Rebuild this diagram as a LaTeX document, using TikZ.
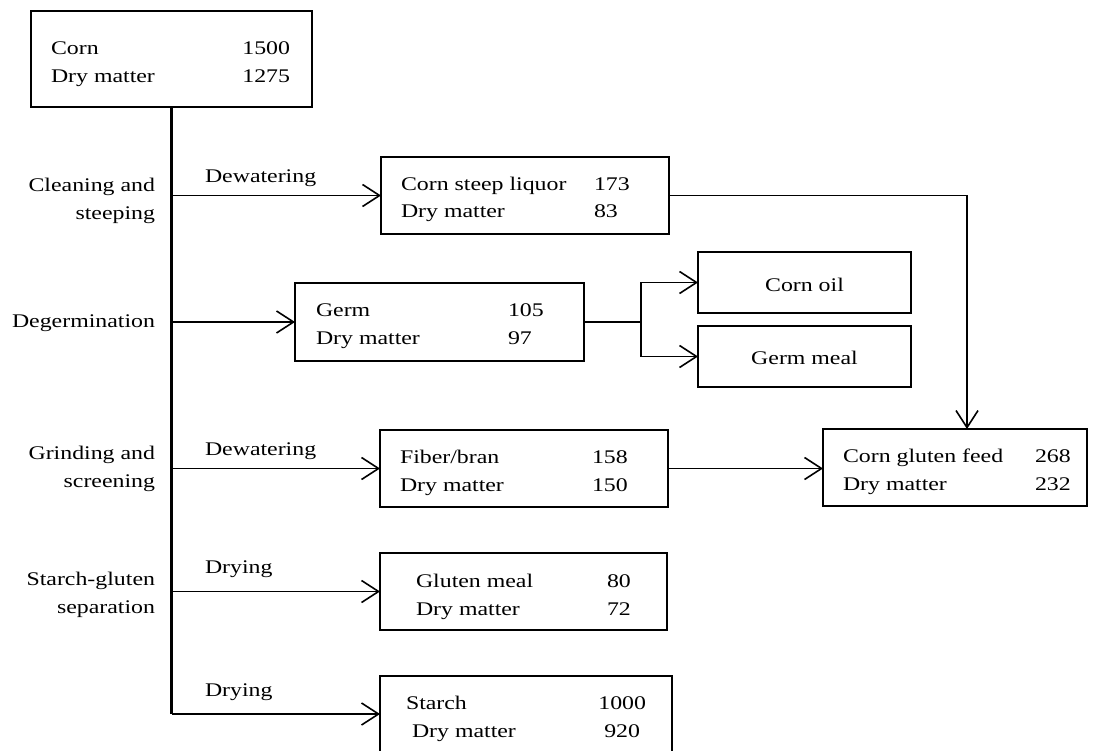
\documentclass[tikz,border=0pt]{standalone}
\usepackage{fontspec}
\setmainfont{Liberation Serif}[FakeStretch=1.235]
\usetikzlibrary{arrows.meta}

\begin{document}
\begin{tikzpicture}[x=1pt,y=-1pt,
  box/.style={draw, line width=1.2pt, inner sep=0pt, outer sep=0pt, anchor=north west},
  txt/.style={inner sep=0pt, outer sep=0pt, font=\fontsize{19.3}{23}\selectfont},
  lw/.style={txt, anchor=base west},
  le/.style={txt, anchor=base east},
  lc/.style={txt, anchor=base},
  conn/.style={line width=1.6pt},
  spine/.style={line width=2.6pt},
  arr/.style={conn, -{Straight Barb[length=17pt,width=22pt,line width=1.6pt]}}]

\clip (0,0) rectangle (1102,751);
\fill[white] (0,0) rectangle (1102,751);

% product boxes
\node[box, minimum width=281pt, minimum height=96pt] (corn)   at (31,11)  {};
\node[box, minimum width=288pt, minimum height=77pt] (steep)  at (381,157) {};
\node[box, minimum width=289pt, minimum height=78pt] (germ)   at (295,283) {};
\node[box, minimum width=213pt, minimum height=61pt] (oil)    at (698,252) {};
\node[box, minimum width=213pt, minimum height=61pt] (gmeal)  at (698,326) {};
\node[box, minimum width=288pt, minimum height=77pt] (fiber)  at (380,430) {};
\node[box, minimum width=264pt, minimum height=77pt] (cgf)    at (823,429) {};
\node[box, minimum width=287pt, minimum height=77pt] (gluten) at (380,553) {};
\node[box, minimum width=292pt, minimum height=90pt] (starch) at (380,676) {};

% box contents
\node[lw] (cornA) at (51,55) {Corn};
\node[le] (cornB) at (290,55) {1500};
\node[lw] (cornC) at (51,83) {Dry matter};
\node[le] (cornD) at (290,83) {1275};

\node[lw] (steepA) at (401,191) {Corn steep liquor};
\node[lw] (steepB) at (594,191) {173};
\node[lw] (steepC) at (401,218) {Dry matter};
\node[lw] (steepD) at (594,218) {83};

\node[lw] (germA) at (316,316) {Germ};
\node[lw] (germB) at (508,316) {105};
\node[lw] (germC) at (316,344) {Dry matter};
\node[lw] (germD) at (508,344) {97};

\node[lc] (oilA)   at (804.5,291) {Corn oil};
\node[lc] (gmealA) at (804.5,364) {Germ meal};

\node[lw] (fiberA) at (400,463) {Fiber/bran};
\node[lw] (fiberB) at (592,463) {158};
\node[lw] (fiberC) at (400,491) {Dry matter};
\node[lw] (fiberD) at (592,491) {150};

\node[lw] (cgfA) at (843,462) {Corn gluten feed};
\node[lw] (cgfB) at (1035,462) {268};
\node[lw] (cgfC) at (843,490) {Dry matter};
\node[lw] (cgfD) at (1035,490) {232};

\node[lw] (glutenA) at (416,587) {Gluten meal};
\node[lw] (glutenB) at (607,587) {80};
\node[lw] (glutenC) at (416,615) {Dry matter};
\node[lw] (glutenD) at (607,615) {72};

\node[lw] (starchA) at (406,709) {Starch};
\node[le] (starchB) at (646,709) {1000};
\node[lw] (starchC) at (412,737) {Dry matter};
\node[le] (starchD) at (640,737) {920};

% process steps along the main line
\node[le] (stepA1) at (155,192) {Cleaning and};
\node[le] (stepA2) at (155,220) {steeping};
\node[le] (stepB)  at (155,327) {Degermination};
\node[le] (stepC1) at (155,459) {Grinding and};
\node[le] (stepC2) at (155,487) {screening};
\node[le] (stepD1) at (155,585) {Starch-gluten};
\node[le] (stepD2) at (155,613) {separation};

% treatment labels over the branches
\node[lw] (trA) at (205,183) {Dewatering};
\node[lw] (trB) at (205,455) {Dewatering};
\node[lw] (trC) at (205,573) {Drying};
\node[lw] (trD) at (205,696) {Drying};

% main line
\coordinate (spineEnd) at (171.5,714);
\draw[spine] (corn.south) -- (spineEnd);

% branches from the main line
\draw[arr] (corn.south |- steep.west) -- (steep.west);
\draw[arr] (corn.south |- germ.west) -- (germ.west);
\draw[arr] (corn.south |- fiber.west) -- (fiber.west);
\draw[arr] (corn.south |- gluten.west) -- (gluten.west);
\draw[arr] (spineEnd) -- (spineEnd -| starch.west);

% germ split
\coordinate (fork) at (641,322);
\draw[conn] (germ.east) -- (fork);
\draw[arr] (fork) |- (oil.west);
\draw[arr] (fork) |- (gmeal.west);

% streams into corn gluten feed
\coordinate (drop) at (967,195.5);
\draw[arr] (steep.east) -- (drop) -- (drop |- cgf.north);
\draw[arr] (fiber.east) -- (fiber.east -| cgf.west);

\end{tikzpicture}
\end{document}
